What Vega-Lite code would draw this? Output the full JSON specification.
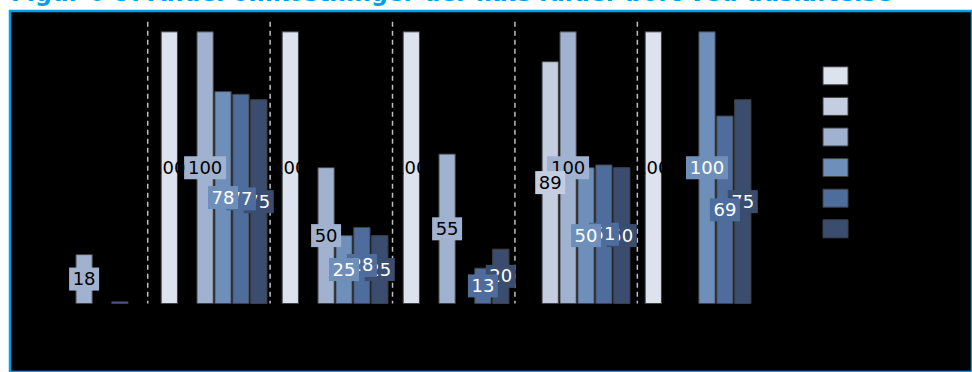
{
  "$schema": "https://vega.github.io/schema/vega-lite/v6.json",
  "width": 962,
  "height": 361,
  "autosize": {"type": "none"},
  "padding": {"left": 10, "top": 11, "right": 0, "bottom": 0},
  "background": "white",
  "title": {
    "text": "Figur 6-9: Andel omkostninger der ikke falder bort ved udskiftelse",
    "anchor": "start",
    "frame": "group",
    "font": "DejaVu Sans",
    "fontSize": 23.5,
    "fontWeight": "bold",
    "color": "#009FE3",
    "baseline": "bottom",
    "offset": -18,
    "dx": 1
  },
  "config": {"view": {"fill": "black", "stroke": "#009FE3", "strokeWidth": 2.5}},
  "data": {
    "values": [
      {"group": "G1", "series": "S3", "value": 18},
      {"group": "G1", "series": "S5", "value": 0.6},
      {"group": "G2", "series": "S1", "value": 100},
      {"group": "G2", "series": "S3", "value": 100},
      {"group": "G2", "series": "S4", "value": 78},
      {"group": "G2", "series": "S5", "value": 77},
      {"group": "G2", "series": "S6", "value": 75},
      {"group": "G3", "series": "S1", "value": 100},
      {"group": "G3", "series": "S3", "value": 50},
      {"group": "G3", "series": "S4", "value": 25},
      {"group": "G3", "series": "S5", "value": 28},
      {"group": "G3", "series": "S6", "value": 25},
      {"group": "G4", "series": "S1", "value": 100},
      {"group": "G4", "series": "S3", "value": 55},
      {"group": "G4", "series": "S5", "value": 13},
      {"group": "G4", "series": "S6", "value": 20},
      {"group": "G5", "series": "S2", "value": 89},
      {"group": "G5", "series": "S3", "value": 100},
      {"group": "G5", "series": "S4", "value": 50},
      {"group": "G5", "series": "S5", "value": 51},
      {"group": "G5", "series": "S6", "value": 50},
      {"group": "G6", "series": "S1", "value": 100},
      {"group": "G6", "series": "S4", "value": 100},
      {"group": "G6", "series": "S5", "value": 69},
      {"group": "G6", "series": "S6", "value": 75}
    ]
  },
  "resolve": {"scale": {"x": "independent", "y": "independent"}},
  "layer": [
    {
      "data": {"values": [{"sep": 1}, {"sep": 2}, {"sep": 3}, {"sep": 4}, {"sep": 5}]},
      "mark": {"type": "rule", "color": "#BFBFBF", "strokeDash": [5, 4], "strokeWidth": 1.5},
      "encoding": {
        "x": {"field": "sep", "type": "quantitative", "scale": {"domain": [-0.125, 7.734], "nice": false, "zero": false}, "axis": null},
        "y": {"datum": 103.7, "type": "quantitative", "scale": {"domain": [-25.2, 107.66], "nice": false, "zero": false}, "axis": null},
        "y2": {"datum": 0}
      }
    },
    {
      "mark": {"type": "bar", "stroke": "#404040", "strokeWidth": 1},
      "encoding": {
        "x": {"field": "group", "type": "nominal", "scale": {"domain": ["G1", "G2", "G3", "G4", "G5", "G6"], "range": [22.55, 748.55], "paddingInner": 0, "paddingOuter": 0}, "axis": null},
        "xOffset": {"field": "series", "type": "nominal", "scale": {"domain": ["S1", "S2", "S3", "S4", "S5", "S6"], "paddingInner": 0.09, "paddingOuter": 0.425}},
        "y": {"field": "value", "type": "quantitative", "scale": {"domain": [-25.2, 107.66], "nice": false, "zero": false}, "axis": null},
        "y2": {"datum": 0},
        "color": {
          "field": "series",
          "type": "nominal",
          "scale": {"domain": ["S1", "S2", "S3", "S4", "S5", "S6"], "range": ["#DDE3EE", "#C4CEE0", "#A0B2D0", "#6F8FBB", "#4E6D9C", "#3A4D6E"]},
          "legend": {
            "orient": "none",
            "legendX": 812.5,
            "legendY": 51.8,
            "labels": false,
            "title": null,
            "padding": 0,
            "symbolType": "M-1,-0.72H1V0.72H-1Z",
            "symbolSize": 625,
            "symbolStrokeColor": "#404040",
            "symbolStrokeWidth": 1,
            "symbolOpacity": 1,
            "rowPadding": 6.6
          }
        }
      }
    },
    {
      "encoding": {
        "x": {"field": "group", "type": "nominal", "scale": {"domain": ["G1", "G2", "G3", "G4", "G5", "G6"], "range": [22.55, 748.55], "paddingInner": 0, "paddingOuter": 0}, "axis": null},
        "xOffset": {"field": "series", "type": "nominal", "scale": {"domain": ["S1", "S2", "S3", "S4", "S5", "S6"], "paddingInner": 0.09, "paddingOuter": 0.425}},
        "y": {"field": "value", "type": "quantitative", "scale": {"domain": [-50.4, 215.32], "nice": false, "zero": false}, "axis": null}
      },
      "layer": [
        {
          "transform": [{"filter": "datum.series === 'S6' && datum.value >= 1"}],
          "layer": [
            {"mark": {"type": "point", "filled": true, "opacity": 1, "strokeWidth": 0},
             "encoding": {"color": {"field": "series", "type": "nominal"},
               "shape": {"condition": {"test": "datum.value >= 100", "value": "M-1,-0.548H1V0.548H-1Z"}, "value": "M-1,-0.767H1V0.767H-1Z"},
               "size": {"condition": {"test": "datum.value >= 100", "value": 1764}, "value": 900}}},
            {"mark": {"type": "text", "color": "white", "font": "DejaVu Sans", "fontSize": 18, "baseline": "middle", "dy": 1},
             "encoding": {"text": {"field": "value", "type": "quantitative", "format": ".0f"}}}
          ]
        },
        {
          "transform": [{"filter": "datum.series === 'S5' && datum.value >= 1"}],
          "layer": [
            {"mark": {"type": "point", "filled": true, "opacity": 1, "strokeWidth": 0},
             "encoding": {"color": {"field": "series", "type": "nominal"},
               "shape": {"condition": {"test": "datum.value >= 100", "value": "M-1,-0.548H1V0.548H-1Z"}, "value": "M-1,-0.767H1V0.767H-1Z"},
               "size": {"condition": {"test": "datum.value >= 100", "value": 1764}, "value": 900}}},
            {"mark": {"type": "text", "color": "white", "font": "DejaVu Sans", "fontSize": 18, "baseline": "middle", "dy": 1},
             "encoding": {"text": {"field": "value", "type": "quantitative", "format": ".0f"}}}
          ]
        },
        {
          "transform": [{"filter": "datum.series === 'S4' && datum.value >= 1"}],
          "layer": [
            {"mark": {"type": "point", "filled": true, "opacity": 1, "strokeWidth": 0},
             "encoding": {"color": {"field": "series", "type": "nominal"},
               "shape": {"condition": {"test": "datum.value >= 100", "value": "M-1,-0.548H1V0.548H-1Z"}, "value": "M-1,-0.767H1V0.767H-1Z"},
               "size": {"condition": {"test": "datum.value >= 100", "value": 1764}, "value": 900}}},
            {"mark": {"type": "text", "color": "white", "font": "DejaVu Sans", "fontSize": 18, "baseline": "middle", "dy": 1},
             "encoding": {"text": {"field": "value", "type": "quantitative", "format": ".0f"}}}
          ]
        },
        {
          "transform": [{"filter": "datum.series === 'S3' && datum.value >= 1"}],
          "layer": [
            {"mark": {"type": "point", "filled": true, "opacity": 1, "strokeWidth": 0},
             "encoding": {"color": {"field": "series", "type": "nominal"},
               "shape": {"condition": {"test": "datum.value >= 100", "value": "M-1,-0.548H1V0.548H-1Z"}, "value": "M-1,-0.767H1V0.767H-1Z"},
               "size": {"condition": {"test": "datum.value >= 100", "value": 1764}, "value": 900}}},
            {"mark": {"type": "text", "color": "black", "font": "DejaVu Sans", "fontSize": 18, "baseline": "middle", "dy": 1},
             "encoding": {"text": {"field": "value", "type": "quantitative", "format": ".0f"}}}
          ]
        },
        {
          "transform": [{"filter": "datum.series === 'S2' && datum.value >= 1"}],
          "layer": [
            {"mark": {"type": "point", "filled": true, "opacity": 1, "strokeWidth": 0},
             "encoding": {"color": {"field": "series", "type": "nominal"},
               "shape": {"condition": {"test": "datum.value >= 100", "value": "M-1,-0.548H1V0.548H-1Z"}, "value": "M-1,-0.767H1V0.767H-1Z"},
               "size": {"condition": {"test": "datum.value >= 100", "value": 1764}, "value": 900}}},
            {"mark": {"type": "text", "color": "black", "font": "DejaVu Sans", "fontSize": 18, "baseline": "middle", "dy": 1},
             "encoding": {"text": {"field": "value", "type": "quantitative", "format": ".0f"}}}
          ]
        },
        {
          "transform": [{"filter": "datum.series === 'S1' && datum.value >= 1"}],
          "mark": {"type": "text", "color": "black", "font": "DejaVu Sans", "fontSize": 18, "baseline": "middle", "dy": 1, "dx": -1},
          "encoding": {"text": {"field": "value", "type": "quantitative", "format": ".0f"}}
        }
      ]
    }
  ]
}
